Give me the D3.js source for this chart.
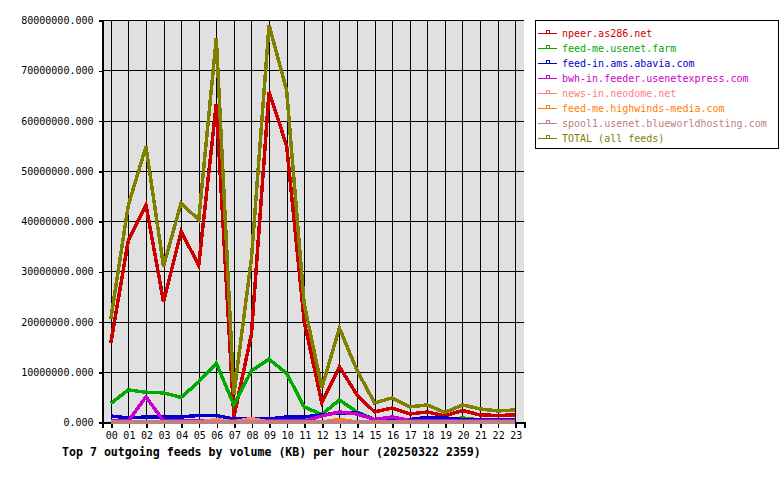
<!DOCTYPE html>
<html>
<head>
<meta charset="utf-8">
<script src="https://cdn.jsdelivr.net/npm/d3@7"></script>
<style>
  body { margin: 0; background: #fff; }
  svg { display: block; }
  text { font-family: 'DejaVu Sans Mono', monospace; }
</style>
</head>
<body>
<svg id="chart" width="780" height="480"></svg>
<script>
// hours of the day
const hours = ['00', '01', '02', '03', '04', '05', '06', '07', '08', '09', '10', '11',
  '12', '13', '14', '15', '16', '17', '18', '19', '20', '21', '22', '23'];

// volume in KB per hour
const npeer = [15700000, 36200000, 43200000, 23900000, 37900000, 31200000, 63300000, 1000000,
  17500000, 65700000, 55000000, 20000000, 3800000, 11000000, 5400000, 2000000,
  2800000, 1600000, 2000000, 1200000, 2300000, 1400000, 1300000, 1400000];
const usenetFarm = [3700000, 6400000, 5900000, 5800000, 4900000, 8000000, 11700000, 3400000,
  10200000, 12500000, 9700000, 3000000, 1500000, 4400000, 2000000, 500000,
  800000, 400000, 400000, 300000, 800000, 400000, 300000, 300000];
const abavia = [1200000, 800000, 1000000, 1000000, 1000000, 1300000, 1300000, 600000,
  600000, 600000, 1000000, 1000000, 1400000, 1800000, 1800000, 500000,
  500000, 500000, 900000, 800000, 500000, 400000, 400000, 400000];
const usenetExpress = [200000, 200000, 5000000, 200000, 200000, 200000, 200000, 200000,
  200000, 200000, 200000, 200000, 1200000, 2000000, 1600000, 500000,
  1000000, 300000, 200000, 200000, 200000, 200000, 200000, 200000];
const neodome = [0, 0, 0, 0, 0, 0, 500000, 0,
  700000, 0, 0, 0, 0, 0, 0, 0,
  0, 0, 0, 0, 0, 0, 0, 0];
const highwinds = [0, 0, 0, 0, 0, 0, 0, 0,
  0, 0, 0, 0, 0, 500000, 0, 0,
  0, 0, 0, 0, 0, 0, 0, 0];
const blueworld = [0, 0, 0, 0, 0, 0, 0, 0,
  0, 0, 0, 0, 0, 0, 0, 0,
  0, 0, 0, 0, 0, 0, 0, 0];
const total = [20500000, 43200000, 54800000, 31000000, 43600000, 40200000, 76400000, 5500000,
  32600000, 79000000, 66000000, 23500000, 6800000, 18700000, 10300000, 3800000,
  4800000, 3000000, 3400000, 1900000, 3400000, 2600000, 2200000, 2400000];

const feedNames = ['npeer.as286.net', 'feed-me.usenet.farm', 'feed-in.ams.abavia.com',
  'bwh-in.feeder.usenetexpress.com', 'news-in.neodome.net', 'feed-me.highwinds-media.com',
  'spool1.usenet.blueworldhosting.com', 'TOTAL (all feeds)'];
const feedColors = ['#cc0000', '#00aa00', '#0000cc', '#cc00cc', '#ff8080', '#ff8000', '#c08080', '#808000'];
const yTicks = [0, 10000000, 20000000, 30000000, 40000000, 50000000, 60000000, 70000000, 80000000];
const title = 'Top 7 outgoing feeds by volume (KB) per hour (20250322 2359)';

const series = [npeer, usenetFarm, abavia, usenetExpress, neodome, highwinds, blueworld, total]
  .map((values, i) => ({ name: feedNames[i], color: feedColors[i], values }));

const drawChart = () => {
  const left = 102, right = 524, top = 20, bottom = 422;
  const svg = d3.select('#chart');

  const x = d3.scalePoint()
      .domain(hours)
      .range([left, right])
      .padding(0.5);

  const y = d3.scaleLinear()
      .domain([0, 80000000])
      .range([bottom, top]);

  // plot background
  svg.append('rect')
      .attr('x', left)
      .attr('y', top)
      .attr('width', right - left)
      .attr('height', bottom - top)
      .attr('fill', '#e0e0e0');

  // grid
  const grid = svg.append('g')
      .attr('stroke', '#000')
      .attr('stroke-width', 1)
      .attr('shape-rendering', 'crispEdges');

  grid.selectAll('line.h')
    .data(yTicks)
    .join('line')
      .attr('class', 'h')
      .attr('x1', left)
      .attr('x2', right)
      .attr('y1', d => Math.round(y(d)) + 0.5)
      .attr('y2', d => Math.round(y(d)) + 0.5);

  grid.selectAll('line.v')
    .data(hours)
    .join('line')
      .attr('class', 'v')
      .attr('x1', d => Math.round(x(d)) + 0.5)
      .attr('x2', d => Math.round(x(d)) + 0.5)
      .attr('y1', top)
      .attr('y2', bottom);

  // axes
  const yAxis = svg.append('g')
      .attr('transform', `translate(${left + 0.5},0.5)`)
      .call(d3.axisLeft(y).tickValues(yTicks).tickFormat(d3.format('.3f')).tickSizeOuter(0).tickSize(4).tickPadding(5));

  const xAxis = svg.append('g')
      .attr('transform', `translate(0.5,${bottom + 0.5})`)
      .call(d3.axisBottom(x).tickSizeOuter(0).tickSize(5).tickPadding(4));

  [yAxis, xAxis].forEach(g => {
    g.selectAll('path, line')
        .attr('stroke', '#000')
        .attr('stroke-width', 1.5)
        .attr('shape-rendering', 'crispEdges');
    g.selectAll('text')
        .attr('font-family', "'DejaVu Sans Mono', monospace")
        .attr('font-size', 10)
        .attr('fill', '#000');
  });

  // series lines
  const line = d3.line()
      .x((d, i) => x(hours[i]))
      .y(d => y(d));

  svg.append('g')
    .selectAll('path')
    .data(series)
    .join('path')
      .attr('d', d => line(d.values))
      .attr('fill', 'none')
      .attr('stroke', d => d.color)
      .attr('stroke-width', 3.5)
      .attr('stroke-linejoin', 'miter')
      .attr('shape-rendering', 'crispEdges');

  // title
  svg.append('text')
      .attr('x', 62)
      .attr('y', 456)
      .attr('font-size', 11.6)
      .attr('font-weight', 'bold')
      .text(title);

  // legend
  const legend = svg.append('g');

  legend.append('rect')
      .attr('x', 535.5)
      .attr('y', 20.5)
      .attr('width', 243)
      .attr('height', 128)
      .attr('fill', '#fff')
      .attr('stroke', '#000')
      .attr('stroke-width', 1);

  const items = legend.selectAll('g.item')
    .data(series)
    .join('g')
      .attr('class', 'item')
      .attr('transform', (d, i) => `translate(0,${33 + i * 15})`);

  items.append('line')
      .attr('x1', 538)
      .attr('x2', 557)
      .attr('y1', 0.5)
      .attr('y2', 0.5)
      .attr('stroke', d => d.color)
      .attr('stroke-width', 1.5)
      .attr('shape-rendering', 'crispEdges');

  items.append('rect')
      .attr('x', 546.5)
      .attr('y', -2.5)
      .attr('width', 3)
      .attr('height', 3)
      .attr('fill', '#fff')
      .attr('stroke', d => d.color)
      .attr('stroke-width', 1)
      .attr('shape-rendering', 'crispEdges');

  items.append('text')
      .attr('x', 562)
      .attr('y', 4)
      .attr('font-size', 10)
      .attr('fill', d => d.color)
      .text(d => d.name);
};

drawChart();
</script>
</body>
</html>
